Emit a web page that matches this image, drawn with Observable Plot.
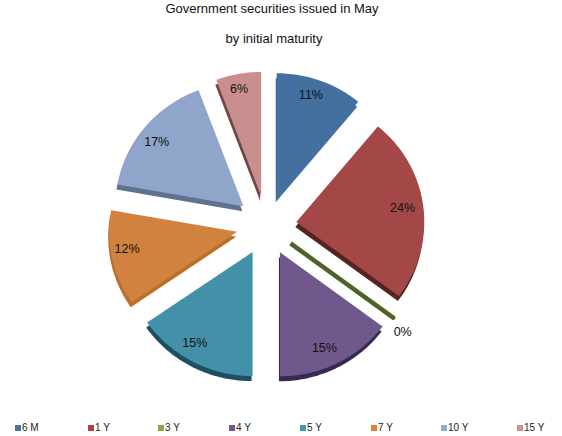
<!DOCTYPE html>
<html>
<head>
<meta charset="utf-8">
<script src="https://cdn.jsdelivr.net/npm/d3@7"></script>
<script src="https://cdn.jsdelivr.net/npm/@observablehq/plot@0.6"></script>
<style>
  html, body { margin: 0; padding: 0; background: #fff; }
  #page { position: relative; width: 562px; height: 436px; overflow: hidden; font-family: "Liberation Sans", Arial, sans-serif; color: #000; }
  .heading { position: absolute; font-size: 13px; line-height: 16px; white-space: nowrap; transform: translateX(-50%); color: #111; }
  #chart { position: absolute; left: 0; top: 52px; }
  #chart svg { display: block; }
  .key { position: absolute; top: 422px; display: flex; align-items: center; font-size: 10px; line-height: 12px; color: #222; white-space: nowrap; }
  .key i { display: block; width: 6px; height: 6px; margin-right: 1px; }
</style>
</head>
<body>
<div id="page">
  <div class="heading" style="left:272px;top:1px">Government securities issued in May</div>
  <div class="heading" style="left:274px;top:31px">by initial maturity</div>
  <div id="chart"></div>
</div>
<script>
// Share of issuance per initial maturity, clockwise from twelve o'clock
const maturities = ["6 M", "1 Y", "3 Y", "4 Y", "5 Y", "7 Y", "10 Y", "15 Y"];
const shares = [11, 24.2, 0, 14.8, 15.4, 12.4, 16.5, 5.7];

// Top face and extruded side colour of each slice
const faceColors = ["#44709f", "#a34846", "#89a54e", "#70588c", "#4391a9", "#d2823f", "#8fa5c9", "#c98f8e"];
const sideColors = ["#44709f", "#552422", "#4f6228", "#372950", "#1e4f60", "#b8702f", "#5f7290", "#6f4746"];
const legendColors = ["#4672a5", "#aa4643", "#89a54e", "#71588f", "#4198af", "#db843d", "#93a9cf", "#d19392"];
const legendLeft = [15, 88, 158, 229, 300, 371, 441, 517];

// Pie geometry in chart units (one unit is one pixel)
const radiusX = 128, radiusY = 124, explode = 30;
const labelRadius = 137, outsideLabelRadius = 173;
const labelNudgeX = [-2, 0, -2.5, -3.5, -8, -5.5, -4.5, -3];
const labelNudgeY = [2, 1, -3.5, 0, 4, 6, -4, 2];
const width = 562, height = 350;
const xDomain = [-266, 296], yDomain = [-177, 173];

const arcs = d3.pie().sort(null).value(d => d)(shares);

const slices = arcs.map((a, i) => ({
  maturity: maturities[i],
  share: shares[i],
  start: a.startAngle,
  end: a.endAngle,
  mid: (a.startAngle + a.endAngle) / 2,
  face: faceColors[i],
  side: sideColors[i]
}));

// Outline of each exploded wedge: apex, then the outer arc
const outline = slices.flatMap(s => {
  const ox = explode * Math.sin(s.mid), oy = explode * Math.cos(s.mid);
  const steps = Math.max(1, Math.ceil((s.end - s.start) / 0.02));
  const rim = d3.range(steps + 1).map(k => {
    const t = s.start + (s.end - s.start) * k / steps;
    return {...s, px: ox + radiusX * Math.sin(t), py: oy + radiusY * Math.cos(t)};
  });
  return [{...s, px: ox, py: oy}, ...rim, {...s, px: ox, py: oy}];
});

// Percentage labels are the rounded shares
const labels = slices.map((s, i) => {
  const r = s.share < 1 ? outsideLabelRadius : labelRadius;
  return {
    ...s,
    px: r * Math.sin(s.mid) + labelNudgeX[i],
    py: r * Math.cos(s.mid) + labelNudgeY[i],
    text: Math.round(s.share) + "%"
  };
});

const wedge = (fill, extra) => Plot.line(outline.filter(d => d.share > 0), {
  x: "px", y: "py", z: "maturity", fill, stroke: "none", ...extra
});

const chart = Plot.plot({
  width, height,
  margin: 0,
  x: {domain: xDomain, axis: null},
  y: {domain: yDomain, axis: null},
  color: {type: "identity"},
  marks: [
    wedge("side", {dx: -1, dy: 5}),
    wedge("face"),
    Plot.line(outline.filter(d => d.share === 0), {
      x: "px", y: "py", z: "maturity", stroke: "side", strokeWidth: 4.5, strokeLinecap: "butt"
    }),
    Plot.text(labels, {
      x: "px", y: "py", text: "text",
      fontSize: 12.5, fontFamily: "Liberation Sans, Arial, sans-serif", fill: "#111"
    })
  ]
});
document.getElementById("chart").append(chart);

// Legend row along the bottom edge
const page = document.getElementById("page");
maturities.forEach((m, i) => {
  const key = document.createElement("div");
  key.className = "key";
  key.style.left = legendLeft[i] + "px";
  const swatch = document.createElement("i");
  swatch.style.background = legendColors[i];
  key.append(swatch, document.createTextNode(m));
  page.append(key);
});
</script>
</body>
</html>
